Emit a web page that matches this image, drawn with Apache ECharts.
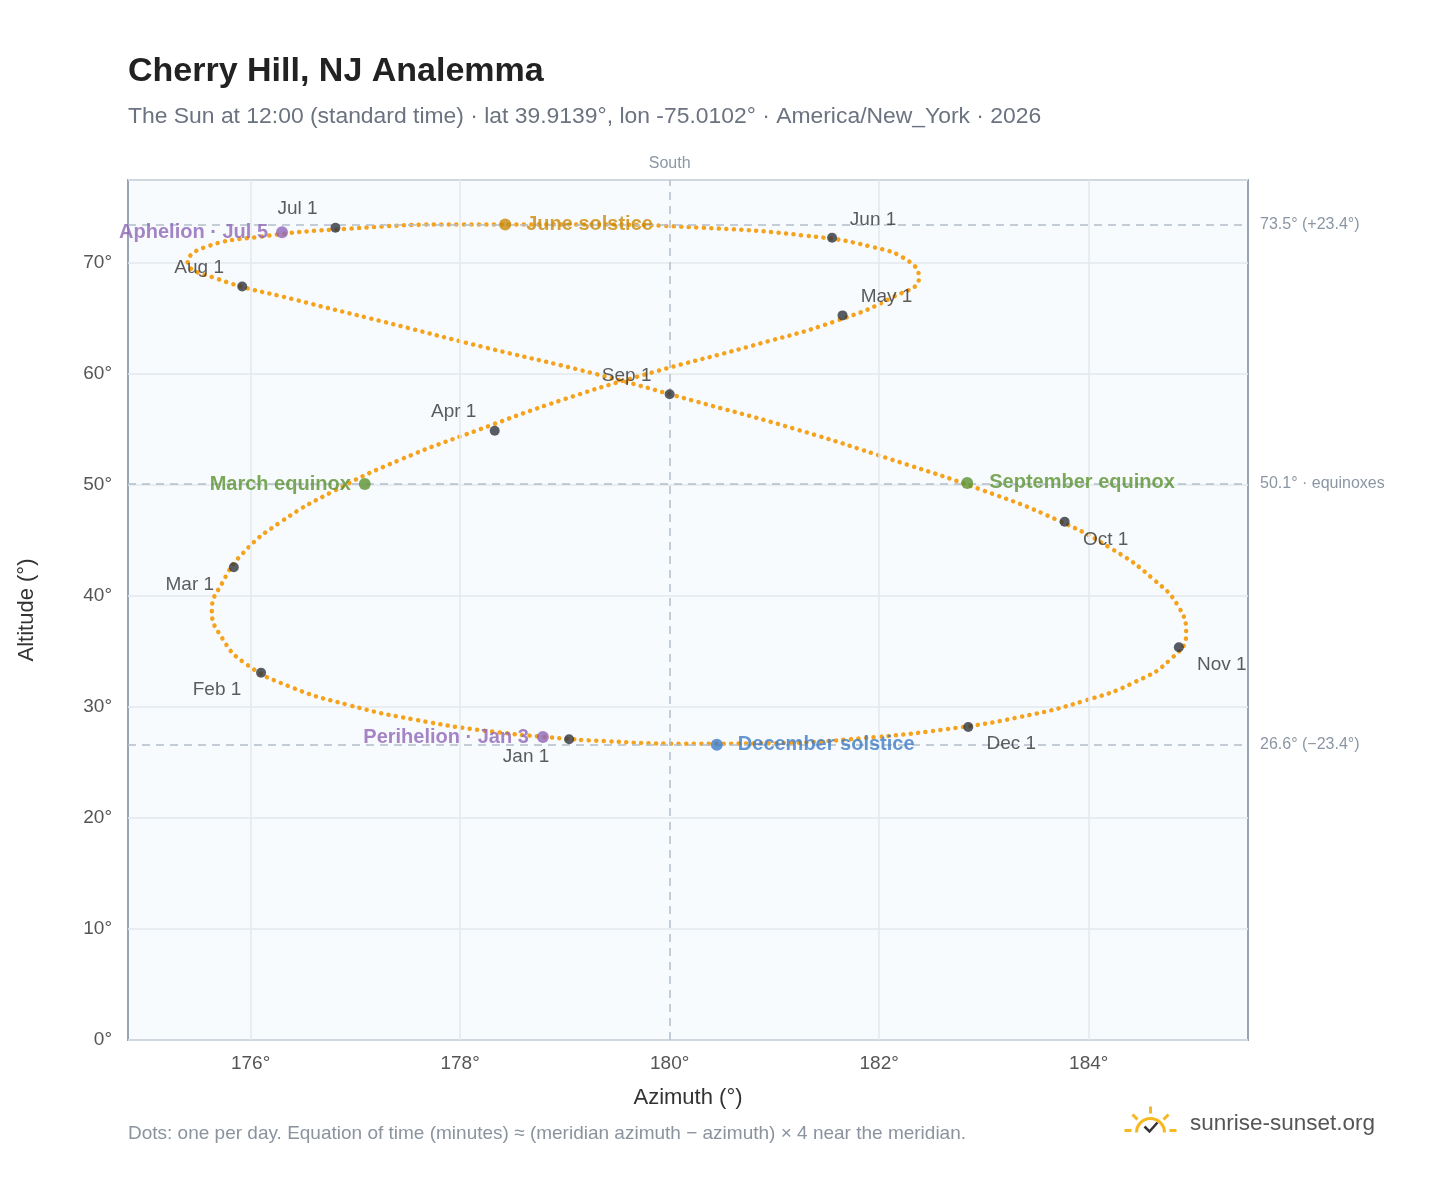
<!DOCTYPE html>
<html><head><meta charset="utf-8">
<script src="https://cdn.jsdelivr.net/npm/echarts@6/dist/echarts.min.js"></script>
<style>html,body{margin:0;padding:0;background:#fff}#c{width:1448px;height:1188px}</style>
</head><body><div id="c"></div>
<script>
// weekly samples of the noon Sun (Jan 1 .. Dec 31, then back to Jan 1)
const pathAz = [179.09,178.30,177.55,176.93,176.36,175.94,175.73,175.63,175.73,175.93,176.29,176.80,177.43,178.18,178.98,179.85,180.80,181.59,182.12,182.38,182.28,181.92,181.28,180.30,179.15,177.98,176.92,176.10,175.55,175.40,175.68,176.43,177.28,178.20,179.26,180.23,181.22,182.12,182.97,183.69,184.23,184.62,184.86,184.93,184.78,184.45,183.97,183.34,182.63,181.84,181.00,180.13,179.23,179.09];
const pathAlt = [27.1,27.8,28.9,30.2,31.9,34.0,36.2,38.7,41.2,43.9,46.7,49.5,52.3,55.0,57.7,60.2,62.6,64.8,66.9,68.7,70.2,71.5,72.5,73.2,73.5,73.5,73.1,72.4,71.4,70.1,68.6,66.7,64.7,62.5,60.1,57.6,55.0,52.3,49.6,46.9,44.2,41.5,39.0,36.6,34.3,32.3,30.6,29.1,28.0,27.2,26.75,26.7,27.0,27.1];
const monthNames = ["Jan 1","Feb 1","Mar 1","Apr 1","May 1","Jun 1","Jul 1","Aug 1","Sep 1","Oct 1","Nov 1","Dec 1"];
const monthAz = [179.04,176.10,175.84,178.33,181.65,181.55,176.81,175.92,180.00,183.77,184.86,182.85];
const monthAlt = [27.1,33.1,42.6,54.9,65.3,72.3,73.2,67.9,58.2,46.7,35.4,28.2];
const eventNames = ["Perihelion · Jan 3","March equinox","June solstice","Aphelion · Jul 5","September equinox","December solstice"];
const eventAz = [178.79,177.09,178.43,176.30,182.84,180.45];
const eventAlt = [27.3,50.1,73.5,72.8,50.2,26.6];
const xTicks = [176,178,180,182,184];
const refLines = [[73.5,"73.5° (+23.4°)"],[50.1,"50.1° · equinoxes"],[26.6,"26.6° (−23.4°)"]];

const evColors = ["#8e67b5","#5a922f","#c98a0a","#8e67b5","#5a922f","#3d7cc4"];
const evLabelPos = [
  {position:'left',distance:8},{position:'left',distance:8},{position:'right',distance:15},
  {position:'left',distance:8},{position:'right',distance:16},{position:'right',distance:15}];
const mOffsets = [[-43,17],[-44,17],[-44,17],[-41,-19],[44,-19],[41,-18],[-38,-19],[-43,-19],[-43,-18],[41,18],[43,18],[43,17]];

const FONT = "Liberation Sans, Arial, sans-serif";
const chart = echarts.init(document.getElementById('c'));
chart.setOption({
  animation:false,
  textStyle:{fontFamily:FONT},
  title:[
    {text:"Cherry Hill, NJ Analemma",left:128,top:55,padding:0,textStyle:{fontSize:34,fontWeight:'bold',color:'#222',fontFamily:FONT}},
    {text:"The Sun at 12:00 (standard time) · lat 39.9139°, lon -75.0102° · America/New_York · 2026",left:128,top:105,padding:0,textStyle:{fontSize:22.9,fontWeight:'normal',color:'#6b7280',fontFamily:FONT}}
  ],
  grid:{left:128,right:200,top:180,bottom:148,show:true,backgroundColor:'#f8fbfe',borderColor:'#98a4b3',borderWidth:2},
  xAxis:{type:'value',min:174.83,max:185.52,name:'Azimuth (°)',nameLocation:'middle',nameGap:47,
    nameTextStyle:{fontSize:22,color:'#333'},
    axisLine:{show:false},axisTick:{show:false},splitLine:{show:false},
    axisLabel:{customValues:xTicks,formatter:v=>Math.round(v)+'°',fontSize:19,color:'#555',margin:14}},
  yAxis:{type:'value',min:0,max:77.5,interval:10,name:'Altitude (°)',nameLocation:'middle',nameGap:90,
    nameTextStyle:{fontSize:22,color:'#333'},
    axisLine:{show:false},axisTick:{show:false},
    splitLine:{lineStyle:{color:'#e3e8ee',width:1.5}},
    axisLabel:{showMaxLabel:false,formatter:v=>v+'°',fontSize:19,color:'#555',margin:16}},
  series:[
    {type:'line',data:[],markLine:{silent:true,symbol:'none',label:{show:false},
      lineStyle:{color:'#e3e8ee',type:'solid',width:1.5},data:xTicks.filter(v=>v!==180).map(v=>({xAxis:v}))}},
    {type:'line',data:[],markLine:{silent:true,symbol:'none',
      lineStyle:{color:'#b3bfca',type:[8,6],width:1.5},
      data:[{xAxis:180,label:{show:true,position:'end',formatter:'South',color:'#8a96a3',fontSize:16,distance:8}}]
        .concat(refLines.map(r=>({yAxis:r[0],label:{show:true,position:'end',formatter:r[1],color:'#8a96a3',fontSize:16,distance:12}})))}},
    {type:'line',data:pathAz.map((a,i)=>[a,pathAlt[i]]),smooth:0.5,showSymbol:false,
      lineStyle:{color:'#f5a21c',width:4.5,type:[0.1,7.4],cap:'round'},z:3},
    {type:'scatter',data:monthAz.map((a,i)=>({value:[a,monthAlt[i]],name:monthNames[i],
      label:{show:true,formatter:monthNames[i],position:'inside',offset:mOffsets[i],color:'#333',fontSize:19}})),
      symbolSize:10,itemStyle:{color:'#2f343d'},z:5},
    {type:'scatter',data:eventAz.map((a,i)=>({value:[a,eventAlt[i]],
      itemStyle:{color:evColors[i]},
      label:Object.assign({show:true,formatter:eventNames[i],color:evColors[i],fontSize:20,fontWeight:'bold'},evLabelPos[i])})),
      symbolSize:12,z:6}
  ],
  graphic:[
    {type:'text',left:128,top:1124,style:{text:"Dots: one per day. Equation of time (minutes) ≈ (meridian azimuth − azimuth) × 4 near the meridian.",fill:'#8a939e',fontSize:19,fontFamily:FONT}},
    {type:'text',left:1190,top:1112,style:{text:"sunrise-sunset.org",fill:'#555',fontSize:22.5,fontFamily:FONT}},
    {type:'group',left:1122,top:1104,children:[
      {type:'arc',shape:{cx:26,cy:26,r:14,startAngle:Math.PI,endAngle:2*Math.PI},style:{stroke:'#f5b820',lineWidth:3,fill:null}},
      {type:'line',shape:{x1:26,y1:0,x2:26,y2:7},style:{stroke:'#f5b820',lineWidth:3}},
      {type:'line',shape:{x1:8,y1:8,x2:13,y2:13},style:{stroke:'#f5b820',lineWidth:3}},
      {type:'line',shape:{x1:44,y1:8,x2:39,y2:13},style:{stroke:'#f5b820',lineWidth:3}},
      {type:'line',shape:{x1:0,y1:24,x2:7,y2:24},style:{stroke:'#f5b820',lineWidth:3}},
      {type:'line',shape:{x1:45,y1:24,x2:52,y2:24},style:{stroke:'#f5b820',lineWidth:3}},
      {type:'polyline',shape:{points:[[20,20],[25,25],[33,16]]},style:{stroke:'#333',lineWidth:2.5,fill:null}}
    ]}
  ]
});
</script></body></html>
